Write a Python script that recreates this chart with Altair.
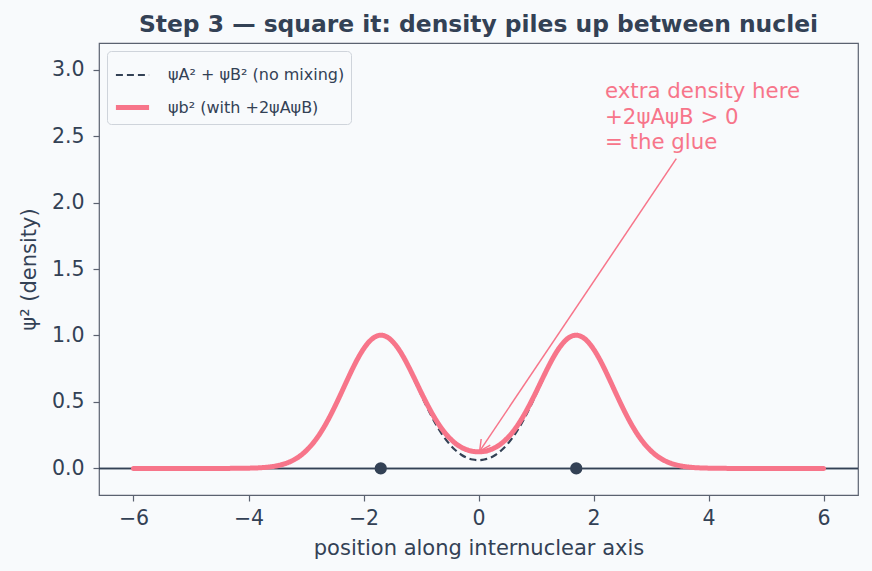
import altair as alt
import pandas as pd

# ---- data ----
X = [-6.0, -5.5, -5.0, -4.5,
     -4.0, -3.9, -3.8, -3.7, -3.6, -3.5, -3.4, -3.3, -3.2, -3.1,
     -3.0, -2.9, -2.8, -2.7, -2.6, -2.5, -2.4, -2.3, -2.2, -2.1,
     -2.0, -1.9, -1.8, -1.7, -1.6, -1.5, -1.4, -1.3, -1.2, -1.1,
     -1.0, -0.9, -0.8, -0.7, -0.6, -0.5, -0.4, -0.3, -0.2, -0.1,
     0.0,
     0.1, 0.2, 0.3, 0.4, 0.5, 0.6, 0.7, 0.8, 0.9, 1.0,
     1.1, 1.2, 1.3, 1.4, 1.5, 1.6, 1.7, 1.8, 1.9, 2.0,
     2.1, 2.2, 2.3, 2.4, 2.5, 2.6, 2.7, 2.8, 2.9, 3.0,
     3.1, 3.2, 3.3, 3.4, 3.5, 3.6, 3.7, 3.8, 3.9, 4.0,
     4.5, 5.0, 5.5, 6.0]

NO_MIX = [0, 0, 0, 0,
          0.002, 0.003, 0.005, 0.008, 0.013, 0.020, 0.031, 0.046, 0.067, 0.095,
          0.132, 0.178, 0.234, 0.301, 0.378, 0.464, 0.555, 0.649, 0.741, 0.825,
          0.898, 0.953, 0.988, 1.000, 0.988, 0.953, 0.898, 0.825, 0.741, 0.649,
          0.556, 0.464, 0.379, 0.302, 0.236, 0.181, 0.137, 0.103, 0.080, 0.067,
          0.062,
          0.067, 0.080, 0.103, 0.137, 0.181, 0.236, 0.302, 0.379, 0.464, 0.556,
          0.649, 0.741, 0.825, 0.898, 0.953, 0.988, 1.000, 0.988, 0.953, 0.898,
          0.825, 0.741, 0.649, 0.555, 0.464, 0.378, 0.301, 0.234, 0.178, 0.132,
          0.095, 0.067, 0.046, 0.031, 0.020, 0.013, 0.008, 0.005, 0.003, 0.002,
          0, 0, 0, 0]

BONDING = [0, 0, 0, 0,
           0.002, 0.003, 0.005, 0.008, 0.013, 0.020, 0.031, 0.046, 0.067, 0.095,
           0.132, 0.178, 0.234, 0.301, 0.378, 0.464, 0.555, 0.649, 0.741, 0.826,
           0.898, 0.954, 0.989, 1.002, 0.991, 0.957, 0.904, 0.834, 0.752, 0.664,
           0.574, 0.488, 0.408, 0.337, 0.276, 0.227, 0.188, 0.159, 0.140, 0.128,
           0.125,
           0.128, 0.140, 0.159, 0.188, 0.227, 0.276, 0.337, 0.408, 0.488, 0.574,
           0.664, 0.752, 0.834, 0.904, 0.957, 0.991, 1.002, 0.989, 0.954, 0.898,
           0.826, 0.741, 0.649, 0.555, 0.464, 0.378, 0.301, 0.234, 0.178, 0.132,
           0.095, 0.067, 0.046, 0.031, 0.020, 0.013, 0.008, 0.005, 0.003, 0.002,
           0, 0, 0, 0]

NUC_X = [-1.7, 1.7]
NUC_Y = [0.0, 0.0]

L1 = "ψA² + ψB² (no mixing)"
L2 = "ψb² (with +2ψAψB)"

ANNOT_TEXT = ["extra density here", "+2ψAψB > 0", "= the glue"]
ANNOT_X = [2.2]
ANNOT_Y = [2.4]
ARROW_FROM = [3.44, 2.33]
ARROW_TO = [0.02, 0.13]

TITLE = "Step 3 — square it: density piles up between nuclei"
X_TITLE = "position along internuclear axis"
Y_TITLE = "ψ² (density)"
X_TICKS = [-6, -4, -2, 0, 2, 4, 6]
Y_TICKS = [0.0, 0.5, 1.0, 1.5, 2.0, 2.5, 3.0]

# ---- styles ----
BG = "#f8fafc"
DARK = "#334155"
PINK = "#f7758a"
FRAME = "#5b6270"
FONT = "DejaVu Sans"

df = pd.DataFrame({
    "x": X + X,
    "y": NO_MIX + BONDING,
    "series": [L1] * len(X) + [L2] * len(X),
})
nuc = pd.DataFrame({"x": NUC_X, "y": NUC_Y})
ann = pd.DataFrame({"x": ANNOT_X, "y": ANNOT_Y, "t": [ANNOT_TEXT]})
arrow = pd.DataFrame({"x": [ARROW_FROM[0]], "y": [ARROW_FROM[1]],
                      "x2": [ARROW_TO[0]], "y2": [ARROW_TO[1]]})

xs = alt.Scale(domain=[-6.6, 6.6], nice=False, zero=False)
ys = alt.Scale(domain=[-0.2, 3.2], nice=False, zero=False)

xenc = alt.X("x:Q", scale=xs, axis=alt.Axis(values=X_TICKS, title=X_TITLE, format="d",
                                            labelPadding=7, titlePadding=9))
yenc = alt.Y("y:Q", scale=ys, axis=alt.Axis(values=Y_TICKS, title=Y_TITLE, format=".1f",
                                            labelPadding=9, titlePadding=12))

leg = alt.Legend(title=None, orient="top-left", offset=8, padding=6,
                 fillColor=BG, strokeColor="#cfd4db", cornerRadius=4,
                 symbolType="stroke", symbolSize=1100, labelFontSize=16,
                 labelColor=DARK, labelFont=FONT, labelOffset=16, rowPadding=5,
                 labelLimit=400)

color = alt.Color("series:N", scale=alt.Scale(domain=[L1, L2], range=[DARK, PINK]), legend=leg)
dash = alt.StrokeDash("series:N", scale=alt.Scale(domain=[L1, L2], range=[[7, 4], [1, 0]]), legend=leg)
width = alt.StrokeWidth("series:N", scale=alt.Scale(domain=[L1, L2], range=[2.2, 5]), legend=leg)

base = alt.Chart(df)

zero_line = alt.Chart(nuc).mark_rule(color=DARK, strokeWidth=1.5).encode(y=alt.datum(0, scale=ys))

dashed = base.transform_filter(alt.datum.series == L1).mark_line(
    interpolate="monotone", strokeCap="butt").encode(
    x=xenc, y=yenc, color=color, strokeDash=dash, strokeWidth=width)

pink = base.transform_filter(alt.datum.series == L2).mark_line(
    interpolate="monotone", strokeCap="round").encode(
    x=xenc, y=yenc, color=color, strokeDash=dash, strokeWidth=width)

dots = alt.Chart(nuc).mark_circle(size=150, color=DARK, opacity=1).encode(
    x=alt.X("x:Q", scale=xs), y=alt.Y("y:Q", scale=ys))

arrow_line = alt.Chart(arrow).mark_rule(color=PINK, strokeWidth=1.5).encode(
    x=alt.X("x:Q", scale=xs), y=alt.Y("y:Q", scale=ys),
    x2="x2:Q", y2="y2:Q")

arrow_head = alt.Chart(arrow).mark_point(
    shape="M -0.5 -1 L 0 0 L 0.5 -1", filled=False, color=PINK, strokeWidth=1.5,
    size=480, angle=33.7, opacity=1).encode(
    x=alt.X("x2:Q", scale=xs), y=alt.Y("y2:Q", scale=ys))

annot = alt.Chart(ann).mark_text(
    align="left", baseline="alphabetic", fontSize=21.3, font=FONT, color=PINK,
    lineHeight=25.5, dy=-51).encode(
    x=alt.X("x:Q", scale=xs), y=alt.Y("y:Q", scale=ys), text="t")

chart = alt.layer(zero_line, dashed, pink, dots, arrow_line, arrow_head, annot).properties(
    width=759, height=452,
    title=TITLE,
    padding={"left": 99, "top": 43, "right": 14, "bottom": 76},
    autosize=alt.AutoSizeParams(type="none"),
).configure(
    background=BG, font=FONT
).configure_view(
    stroke=FRAME, strokeWidth=1.2, fill=BG
).configure_axis(
    domain=False, grid=False, tickColor=FRAME, tickSize=6, tickWidth=1.2,
    labelFont=FONT, labelFontSize=20.5, labelColor=DARK,
    titleFont=FONT, titleFontSize=21, titleColor=DARK, titleFontWeight="normal"
).configure_title(
    font=FONT, fontSize=23.4, fontWeight="bold", color=DARK, anchor="middle", offset=6
)

chart.save("out.html", embed_options={"renderer": "svg", "actions": False})
